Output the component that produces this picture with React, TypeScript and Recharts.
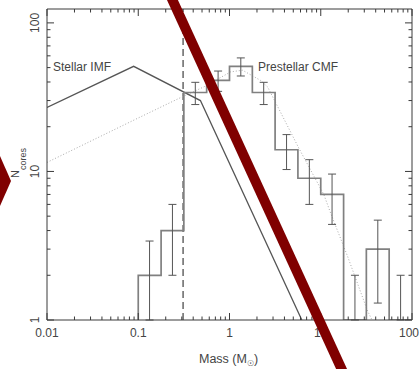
import React from 'react';
import { ComposedChart, Line, Scatter, ErrorBar, XAxis, YAxis, ReferenceLine } from 'recharts';

// ---- data ----
const binEdges = [0.1, 0.178, 0.316, 0.562, 1, 1.78, 3.16, 5.62, 10, 17.8, 31.6, 56.2, 100];
const binCounts = [2, 4, 34, 41, 51, 34, 14, 9, 7, 1, 3, 1];
const binCenters = [0.133, 0.237, 0.422, 0.75, 1.33, 2.37, 4.22, 7.5, 13.3, 23.7, 42.2, 75];
const errLow = [1, 2, 5.8, 6.4, 7.1, 5.8, 3.7, 3, 2.6, 0, 1.7, 0];
const errHigh = [1.4, 2, 5.8, 6.4, 7.1, 5.8, 3.7, 3, 2.6, 1, 1.7, 1];

const imfMass = [0.01, 0.089, 0.48, 6.2];
const imfN = [27, 51, 30, 1];

const cmfMass = [0.01, 0.1, 0.31, 0.52, 1.03, 1.39, 2.19, 2.62, 3.63, 5.7, 10.8, 12.9, 19.6, 32.6, 36.5];
const cmfN = [11.5, 22.9, 32, 37, 46.8, 48, 41, 37, 25, 14.5, 7, 5.2, 2.7, 1.15, 1];

const coreMassLimit = 0.31;

const xDecades = [0.01, 0.1, 1, 10, 100];
const xTickLabels = ['0.01', '0.1', '1', '10', '100'];
const yDecades = [1, 10, 100];
const yTickLabels = ['1', '10', '100'];
const minorSteps = [2, 3, 4, 5, 6, 7, 8, 9];

const xDomain = [0.01, 100];
const yDomain = [1, 124];

// ---- derived tables ----
const buildTicks = (decades: number[], max: number) => {
  const t: number[] = [];
  decades.forEach((d) => {
    t.push(d);
    minorSteps.forEach((k) => {
      if (d * k <= max) t.push(d * k);
    });
  });
  return t.filter((v) => v <= max);
};
const xTicks = buildTicks(xDecades, xDomain[1]);
const yTicks = buildTicks(yDecades, yDomain[1]);

const histData = [
  { m: binEdges[0], n: 1 },
  ...binCounts.map((c, i) => ({ m: binEdges[i], n: c })),
  { m: binEdges[binEdges.length - 1], n: binCounts[binCounts.length - 1] },
];
const errData = binCenters.map((m, i) => ({ m, n: binCounts[i], err: [errLow[i], errHigh[i]] }));
const imfData = imfMass.map((m, i) => ({ m, n: imfN[i] }));
const cmfData = cmfMass.map((m, i) => ({ m, n: cmfN[i] }));

// ---- styling ----
const AXIS = '#3a3a3a';
const TEXT = '#444';
const FONT = 'Liberation Sans, Arial, sans-serif';
const MAJOR = 7;
const MINOR = 3.5;

const isMajor = (v: number) => {
  const l = Math.log10(v);
  return Math.abs(l - Math.round(l)) < 1e-6;
};
const labelFor = (v: number, decades: number[], labels: string[]) => {
  const idx = decades.findIndex((d) => Math.abs(Math.log10(d) - Math.log10(v)) < 1e-6);
  return idx >= 0 ? labels[idx] : '';
};

const BottomTick = (p: any) => {
  const { x, y, payload } = p;
  const major = isMajor(payload.value);
  const last = Math.abs(payload.value - xDomain[1]) < 1e-9;
  return (
    <g>
      <line x1={x} x2={x} y1={y} y2={y - (major ? MAJOR : MINOR)} stroke={AXIS} strokeWidth={1} />
      {major && (
        <text
          x={last ? 419 : x}
          y={y + 17}
          textAnchor={last ? 'end' : 'middle'}
          fontSize={12}
          fontFamily={FONT}
          fill={TEXT}
        >
          {labelFor(payload.value, xDecades, xTickLabels)}
        </text>
      )}
    </g>
  );
};
const TopTick = (p: any) => {
  const { x, y, payload } = p;
  const major = isMajor(payload.value);
  return <line x1={x} x2={x} y1={y} y2={y + (major ? MAJOR : MINOR)} stroke={AXIS} strokeWidth={1} />;
};
const LeftTick = (p: any) => {
  const { x, y, payload } = p;
  const major = isMajor(payload.value);
  const lx = x - 8;
  return (
    <g>
      <line x1={x} x2={x + (major ? MAJOR : MINOR)} y1={y} y2={y} stroke={AXIS} strokeWidth={1} />
      {major && (
        <text
          x={lx}
          y={y}
          transform={`rotate(-90 ${lx} ${y})`}
          textAnchor="middle"
          fontSize={12}
          fontFamily={FONT}
          fill={TEXT}
        >
          {labelFor(payload.value, yDecades, yTickLabels)}
        </text>
      )}
    </g>
  );
};
const RightTick = (p: any) => {
  const { x, y, payload } = p;
  const major = isMajor(payload.value);
  return <line x1={x} x2={x - (major ? MAJOR : MINOR)} y1={y} y2={y} stroke={AXIS} strokeWidth={1} />;
};

const NoShape = () => <g />;

export default function App() {
  return (
    <div style={{ position: 'absolute', left: 0, top: 0, width: 420, height: 369, background: '#fff' }}>
      <ComposedChart
        width={420}
        height={369}
        margin={{ top: 8, right: 7, bottom: 48, left: 46 }}
        style={{ position: 'absolute', left: 0, top: 0 }}
      >
        <XAxis
          xAxisId={0}
          dataKey="m"
          type="number"
          scale="log"
          domain={xDomain}
          ticks={xTicks}
          interval={0}
          height={1}
          tickSize={0}
          tickMargin={0}
          tickLine={false}
          tick={<BottomTick />}
          axisLine={{ stroke: AXIS, strokeWidth: 1 }}
          allowDataOverflow
        />
        <XAxis
          xAxisId="top"
          orientation="top"
          dataKey="m"
          type="number"
          scale="log"
          domain={xDomain}
          ticks={xTicks}
          interval={0}
          height={1}
          tickSize={0}
          tickMargin={0}
          tickLine={false}
          tick={<TopTick />}
          axisLine={{ stroke: AXIS, strokeWidth: 1 }}
          allowDataOverflow
        />
        <YAxis
          yAxisId={0}
          type="number"
          scale="log"
          domain={yDomain}
          ticks={yTicks}
          interval={0}
          width={1}
          tickSize={0}
          tickMargin={0}
          tickLine={false}
          tick={<LeftTick />}
          axisLine={{ stroke: AXIS, strokeWidth: 1 }}
          allowDataOverflow
        />
        <YAxis
          yAxisId="right"
          orientation="right"
          type="number"
          scale="log"
          domain={yDomain}
          ticks={yTicks}
          interval={0}
          width={1}
          tickSize={0}
          tickMargin={0}
          tickLine={false}
          tick={<RightTick />}
          axisLine={{ stroke: AXIS, strokeWidth: 1 }}
          allowDataOverflow
        />
        <ReferenceLine x={coreMassLimit} stroke="#666" strokeWidth={1.5} strokeDasharray="7 4" />
        <Line
          data={cmfData}
          dataKey="n"
          type="linear"
          stroke="#aaa"
          strokeWidth={1}
          strokeDasharray="1 2"
          dot={false}
          isAnimationActive={false}
        />
        <Line
          data={imfData}
          dataKey="n"
          type="linear"
          stroke="#555"
          strokeWidth={1.3}
          dot={false}
          isAnimationActive={false}
        />
        <Line
          data={histData}
          dataKey="n"
          type="stepAfter"
          stroke="#808080"
          strokeWidth={1.7}
          dot={false}
          isAnimationActive={false}
        />
        <Scatter data={errData} dataKey="n" shape={NoShape} isAnimationActive={false}>
          <ErrorBar dataKey="err" direction="y" width={4} stroke="#555" strokeWidth={1} isAnimationActive={false} />
        </Scatter>
      </ComposedChart>
      <svg
        width={420}
        height={369}
        style={{ position: 'absolute', left: 0, top: 0, pointerEvents: 'none' }}
      >
        <text x={53} y={71} fontSize={12} fontFamily={FONT} fill={TEXT}>Stellar IMF</text>
        <text x={258} y={71} fontSize={12} fontFamily={FONT} fill={TEXT}>Prestellar CMF</text>
        <text x={199} y={363} fontSize={12.5} fontFamily={FONT} fill={TEXT}>
          Mass (M<tspan fontSize={8} dy={3}>☉</tspan><tspan dy={-3}>)</tspan>
        </text>
        <text x={18.5} y={178} transform="rotate(-90 18.5 178)" fontSize={11} fontFamily={FONT} fill={TEXT}>
          N<tspan fontSize={9} dy={7}>cores</tspan>
        </text>
        <line x1={171.5} y1={-2} x2={342.5} y2={371} stroke="#800000" strokeWidth={10} />
        <polygon points="0,156 11,181 0,206" fill="#800000" />
      </svg>
    </div>
  );
}
